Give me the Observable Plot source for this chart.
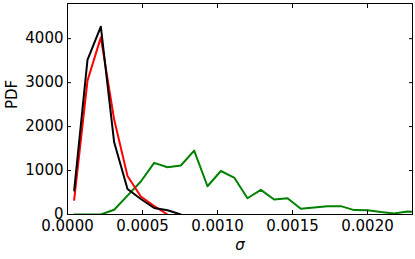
<!DOCTYPE html>
<html>
<head>
<meta charset="utf-8">
<script src="https://cdn.jsdelivr.net/npm/d3@7"></script>
<script src="https://cdn.jsdelivr.net/npm/@observablehq/plot@0.6"></script>
<style>
  html, body { margin: 0; padding: 0; background: #fff; }
  #chart { width: 415px; height: 259px; }
</style>
</head>
<body>
<div id="chart"></div>
<script>
// bin centres (sigma)
const sigma = [0.0000444, 0.0001333, 0.0002222, 0.0003111, 0.0004000, 0.0004889, 0.0005778,
  0.0006667, 0.0007556, 0.0008444, 0.0009333, 0.0010222, 0.0011111, 0.0012000, 0.0012889,
  0.0013778, 0.0014667, 0.0015556, 0.0016444, 0.0017333, 0.0018222, 0.0019111, 0.0020000,
  0.0020889, 0.0021778, 0.0022667, 0.0023556];
const blackPdf = [545, 3516, 4273, 1643, 580, 352, 148, 98, 0];
const redPdf = [334, 3045, 4030, 2160, 875, 410, 193, 0];
const greenPdf = [0, 0, 0, 107, 430, 750, 1175, 1075, 1114, 1455, 643, 990, 840, 370, 561,
  340, 370, 130, 160, 190, 190, 100, 98, 57, 23, 68, 55];
const xTicks = [0, 0.0005, 0.0010, 0.0015, 0.0020];
const yTicks = [0, 1000, 2000, 3000, 4000];
const xLabel = "σ";
const yLabel = "PDF";

const toRows = (vals) => vals.map((v, i) => ({sigma: sigma[i], pdf: v}));
const black = toRows(blackPdf), red = toRows(redPdf), green = toRows(greenPdf);

const chart = Plot.plot({
  width: 415,
  height: 259,
  marginLeft: 67,
  marginRight: 3,
  marginTop: 3,
  marginBottom: 45,
  style: {fontFamily: "'DejaVu Sans', sans-serif", fontSize: "15px", background: "#fff", color: "#000"},
  x: {domain: [0, 0.0023]},
  y: {domain: [0, 4800]},
  marks: [
    Plot.line(green, {x: "sigma", y: "pdf", stroke: "#008000", strokeWidth: 2, clip: true}),
    Plot.line(red, {x: "sigma", y: "pdf", stroke: "#ff0000", strokeWidth: 2, clip: true}),
    Plot.line(black, {x: "sigma", y: "pdf", stroke: "#000000", strokeWidth: 2, clip: true}),
    Plot.frame({stroke: "#000", strokeWidth: 1}),
    Plot.axisX(xTicks, {anchor: "bottom", tickSize: -4, fill: "none", label: null}),
    Plot.axisX(xTicks, {anchor: "top", tickSize: -4, fill: "none", label: null}),
    Plot.axisY(yTicks, {anchor: "left", tickSize: -4, fill: "none", label: null}),
    Plot.axisY(yTicks, {anchor: "right", tickSize: -4, fill: "none", label: null}),
    Plot.axisX(xTicks, {anchor: "bottom", tickSize: 0, tickPadding: 6, fontSize: 15, tickFormat: d3.format(".4f"), label: null}),
    Plot.axisY(yTicks, {anchor: "left", tickSize: 0, tickPadding: 4, fontSize: 15, tickFormat: d3.format("d"), label: null}),
    Plot.text([xLabel], {frameAnchor: "bottom", dy: 35, fontStyle: "italic", fontSize: 15}),
    Plot.text([yLabel], {frameAnchor: "left", dx: -55, rotate: -90, fontSize: 15})
  ]
});
document.getElementById("chart").appendChild(chart);
</script>
</body>
</html>
